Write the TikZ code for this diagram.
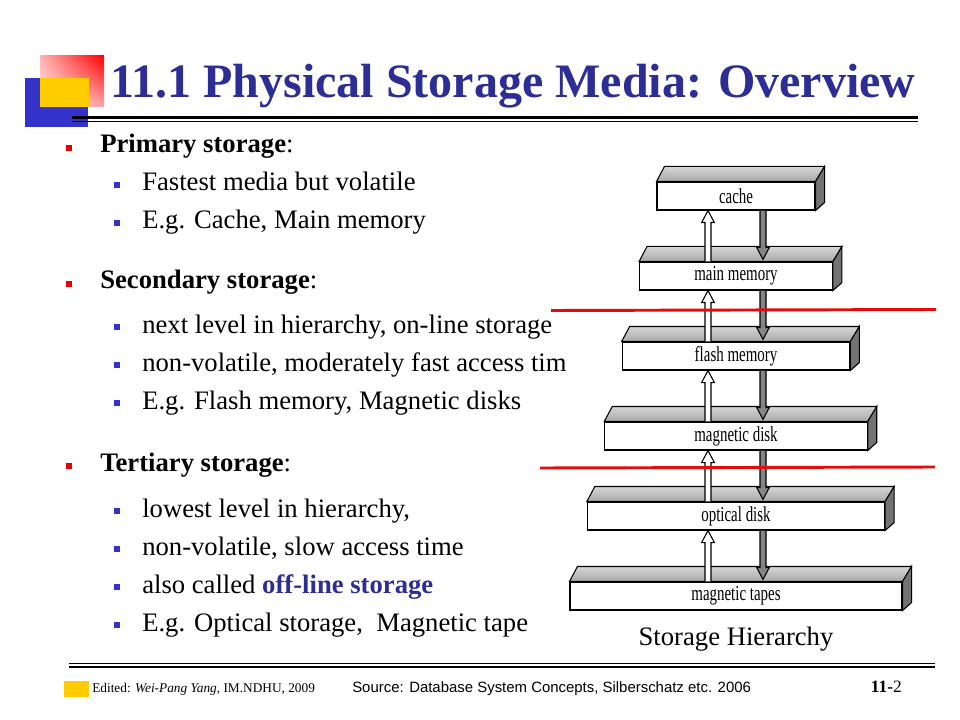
\documentclass[tikz,border=0pt]{standalone}
\usepackage{fontspec}
\setmainfont{Liberation Serif}
\newfontfamily\arialf{Liberation Sans}
\usetikzlibrary{calc,shadings}
\definecolor{titleblue}{RGB}{45,45,150}
\definecolor{bulred}{RGB}{230,0,0}
\definecolor{bulblue}{RGB}{51,51,204}
\definecolor{logoyellow}{RGB}{255,204,0}
\definecolor{logoblue}{RGB}{51,51,204}
\definecolor{linered}{RGB}{230,10,10}
\begin{document}
\begin{tikzpicture}[x=0.75pt,y=-0.75pt,
  bodytext/.style={anchor=base west, inner sep=0pt, font=\fontsize{20}{24}\selectfont},
  bulA/.style={fill=bulred, inner sep=0pt, minimum size=5.2pt},
  bulB/.style={fill=bulblue, inner sep=0pt, minimum size=5.2pt},
  frontbox/.style={draw, fill=white, line width=0.8pt, inner sep=0pt, minimum height=21pt,
     font=\fontsize{16}{18}\selectfont},
  topface/.style={draw, line width=0.8pt, top color=black!16, bottom color=black!34},
  sideface/.style={draw, line width=0.8pt, fill=black!55},
  uparrow/.style={draw, fill=white, line width=0.8pt},
  downarrow/.style={draw, fill=black!48, line width=0.8pt},
  redline/.style={draw=linered, line width=2.2pt}
]
\useasboundingbox[fill=white] (0,0) rectangle (960,720);

% logo
\shade[upper left=red!30!white, upper right=red, lower left=red!6!white, lower right=red!35!white] (40,56) rectangle (104,107);
\fill[logoblue] (25,78) rectangle (88,127);
\fill[logoyellow] (40,78) rectangle (89,107);

% title
\node[anchor=base west, inner sep=0pt, text=titleblue, font=\fontsize{36}{40}\selectfont\bfseries] (title) at (110,98) {11.1 Physical Storage Media: Overview};
\draw[line width=2.1pt] (72,117.8) -- (918,117.8);
\draw[line width=0.9pt] (72,121.6) -- (918,121.6);

% bullets level 1
\node[bulA] (r1) at (69,148) {};
\node[bodytext] (t1) at (100,153) {\textbf{Primary storage}:};
\node[bulB] (b11) at (117,185) {};
\node[bodytext] (t11) at (142,191) {Fastest media but volatile};
\node[bulB] (b12) at (117,223) {};
\node[bodytext] (t12) at (142,229) {E.g. Cache, Main memory};

\node[bulA] (r2) at (69,284) {};
\node[bodytext] (t2) at (100,289) {\textbf{Secondary storage}:};
\node[bulB] (b21) at (117,327) {};
\node[bodytext] (t21) at (142,333) {next level in hierarchy, on-line storage};
\node[bulB] (b22) at (117,365) {};
\node[bodytext] (t22) at (142,371) {non-volatile, moderately fast access tim};
\node[bulB] (b23) at (117,403) {};
\node[bodytext] (t23) at (142,409) {E.g. Flash memory, Magnetic disks};

\node[bulA] (r3) at (69,466) {};
\node[bodytext] (t3) at (100,471) {\textbf{Tertiary storage}:};
\node[bulB] (b31) at (117,511) {};
\node[bodytext] (t31) at (142,517) {lowest level in hierarchy,};
\node[bulB] (b32) at (117,549) {};
\node[bodytext] (t32) at (142,555) {non-volatile, slow access time};
\node[bulB] (b33) at (117,587) {};
\node[bodytext] (t33) at (142,593) {also called \textcolor{titleblue}{\textbf{off-line storage}}};
\node[bulB] (b34) at (117,625) {};
\node[bodytext] (t34) at (142,631) {E.g. Optical storage,\ \ Magnetic tape};

% storage hierarchy boxes
\foreach \i/\lab in {1/cache,2/main memory,3/flash memory,4/magnetic disk,5/optical disk,6/magnetic tapes}{
  \pgfmathsetmacro\wpt{(158+34.8*(\i-1))*0.75}
  \pgfmathsetmacro\cy{196+80*(\i-1)}
  \node[frontbox, minimum width=\wpt pt] (box\i) at (736,\cy) {\scalebox{0.7}[1]{\lab}};
  \path[topface] (box\i.north west) -- ([xshift=6pt,yshift=11.25pt]box\i.north west)
     -- ([xshift=6.75pt,yshift=11.25pt]box\i.north east) -- (box\i.north east) -- cycle;
  \path[sideface] (box\i.north east) -- ([xshift=6.75pt,yshift=11.25pt]box\i.north east)
     -- ([xshift=6.75pt,yshift=6pt]box\i.south east) -- (box\i.south east) -- cycle;
}
% arrows
\foreach \i/\j in {1/2,2/3,3/4,4/5,5/6}{
  \path[uparrow] let \p1=(box\j.north), \p2=(box\i.south) in
    (\x1-23.25pt,\y1) -- (\x1-23.25pt,\y2-9pt) -- (\x1-25.75pt,\y2-9pt) -- (\x1-21pt,\y2)
    -- (\x1-16.25pt,\y2-9pt) -- (\x1-18.75pt,\y2-9pt) -- (\x1-18.75pt,\y1);
  \path[downarrow] let \p1=(box\j.north), \p2=(box\i.south) in
    (\x1+18pt,\y2) -- (\x1+18pt,\y1+10.5pt) -- (\x1+15.5pt,\y1+10.5pt) -- (\x1+20.25pt,\y1+1.5pt)
    -- (\x1+25pt,\y1+10.5pt) -- (\x1+22.5pt,\y1+10.5pt) -- (\x1+22.5pt,\y2);
}
% red separators
\path[redline] (551,310.5) -- (936,309.5);
\path[redline] (540,468) -- (935,467);

\node[anchor=base, inner sep=0pt, font=\fontsize{20}{24}\selectfont] (cap) at (736,645) {Storage Hierarchy};

% footer
\draw[line width=0.75pt] (69,663.5) -- (935,663.5);
\draw[line width=1.5pt] (69,666.5) -- (935,666.5);
\fill[logoyellow] (64,681) rectangle (89,697);
\node[anchor=base west, inner sep=0pt, font=\fontsize{10}{12}\selectfont] (ed) at (92,692) {Edited: \textit{Wei-Pang Yang}, IM.NDHU, 2009};
\node[anchor=base west, inner sep=0pt, font=\arialf\fontsize{11.2}{14}\selectfont] (src) at (352,692) {Source: Database System Concepts, Silberschatz etc. 2006};
\node[anchor=base east, inner sep=0pt, font=\fontsize{13}{15}\selectfont] (pg) at (902,692) {\textbf{11-}2};
\end{tikzpicture}
\end{document}
